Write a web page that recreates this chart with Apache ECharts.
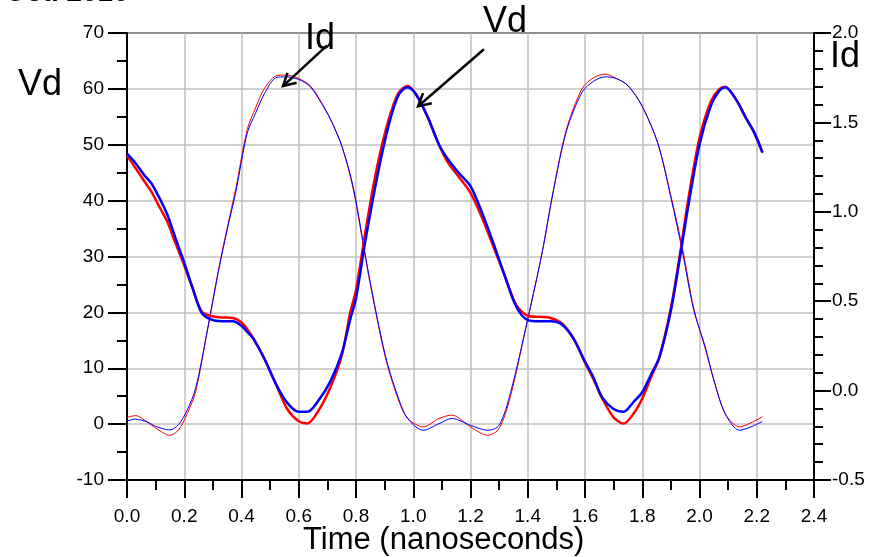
<!DOCTYPE html>
<html>
<head>
<meta charset="utf-8">
<script src="https://cdn.jsdelivr.net/npm/echarts@6.0.0/dist/echarts.min.js"></script>
<style>
html, body { margin: 0; padding: 0; background: #fff; }
#chart { width: 877px; height: 557px; }
</style>
</head>
<body>
<div id="chart"></div>
<script>
// Vd (left axis, volts) - thick lines
const vdTime = [0.00,0.03,0.06,0.085,0.11,0.14,0.17,0.20,0.23,0.26,0.29,0.33,0.37,0.40,0.42,0.44,0.48,0.52,0.56,0.60,0.63,0.67,0.71,0.75,0.78,0.80,0.83,0.86,0.89,0.92,0.95,0.98,1.01,1.05,1.09,1.12,1.16,1.20,1.24,1.28,1.32,1.36,1.40,1.44,1.48,1.52,1.56,1.60,1.63,1.66,1.70,1.735,1.77,1.80,1.83,1.86,1.90,1.93,1.96,2.00,2.04,2.07,2.09,2.13,2.16,2.19,2.22]
const vdRed = [48.1,45.8,43.5,41.6,39.2,36.3,32.3,28.4,24.2,20.2,19.4,19.1,19.0,18.2,17.0,15.5,11.7,7.2,2.7,0.5,0.1,2.5,6.5,12.2,20.0,24.0,33.5,42.5,49.8,55.5,59.4,60.5,59.0,55.0,50.0,46.9,44.2,41.4,37.0,31.8,26.5,21.3,19.4,19.2,19.0,18.0,15.3,11.0,8.0,4.6,1.2,0.1,1.9,4.6,8.3,12.0,20.8,29.8,40.0,51.2,57.8,60.0,60.4,57.9,55.0,52.3,48.6]
const vdBlue = [48.4,46.7,44.6,43.1,40.8,37.6,33.2,28.9,24.2,20.0,18.8,18.4,18.4,17.6,16.5,15.4,11.7,7.2,3.8,2.2,2.2,4.3,7.6,12.6,18.8,22.5,32.0,40.5,48.2,54.6,59.0,60.3,59.0,55.0,50.0,47.5,44.9,42.6,37.9,32.4,26.5,21.0,18.6,18.4,18.4,17.8,15.3,11.2,8.3,4.8,2.7,2.2,4.0,5.7,8.8,12.0,20.3,29.3,38.8,50.0,57.0,59.7,60.3,57.9,55.0,52.3,48.6]

// Id (right axis) - thin lines
const idTime = [0.00,0.03,0.07,0.10,0.15,0.18,0.21,0.24,0.28,0.32,0.35,0.38,0.42,0.45,0.48,0.52,0.555,0.60,0.64,0.68,0.71,0.75,0.79,0.84,0.88,0.91,0.95,0.98,1.035,1.09,1.135,1.20,1.26,1.30,1.34,1.40,1.45,1.49,1.535,1.59,1.63,1.67,1.71,1.75,1.80,1.855,1.90,1.94,1.98,2.02,2.05,2.09,2.14,2.18,2.22]
const idRed = [-0.15,-0.14,-0.175,-0.21,-0.25,-0.22,-0.13,-0.005,0.33,0.68,0.91,1.13,1.46,1.585,1.69,1.76,1.765,1.745,1.705,1.61,1.52,1.37,1.13,0.68,0.35,0.14,-0.06,-0.155,-0.203,-0.156,-0.137,-0.203,-0.25,-0.212,-0.03,0.40,0.77,1.125,1.46,1.69,1.75,1.77,1.745,1.706,1.59,1.38,1.09,0.80,0.46,0.235,0.06,-0.13,-0.203,-0.18,-0.147]
const idBlue = [-0.17,-0.16,-0.175,-0.20,-0.22,-0.19,-0.11,0.015,0.33,0.67,0.90,1.11,1.44,1.555,1.66,1.75,1.755,1.74,1.70,1.605,1.52,1.37,1.14,0.69,0.36,0.15,-0.05,-0.155,-0.222,-0.185,-0.156,-0.194,-0.222,-0.194,-0.01,0.40,0.77,1.12,1.45,1.67,1.73,1.755,1.745,1.706,1.59,1.38,1.08,0.78,0.45,0.245,0.06,-0.13,-0.222,-0.203,-0.172]

// arrows: [tail, tip] in (ns, Vd) coordinates
const idArrow = [[0.699, 67.8], [0.545, 60.5]]
const vdArrow = [[1.247, 67.1], [1.017, 56.9]]

const FONT = 'Liberation Sans, Arial, sans-serif'

function pairs(xs, ys) {
  return xs.map((x, i) => [x, ys[i]])
}

const chart = echarts.init(document.getElementById('chart'))

const axisBlack = { lineStyle: { color: '#000', width: 2 } }

chart.setOption({
  animation: false,
  backgroundColor: '#fff',
  grid: {
    left: 127, right: 63, top: 33, bottom: 77,
    show: true, borderColor: '#000', borderWidth: 2
  },
  xAxis: {
    type: 'value',
    min: 0, max: 2.4, interval: 0.2,
    axisLine: { onZero: false, ...axisBlack },
    axisTick: { inside: false, length: 18, lineStyle: { color: '#000', width: 2 } },
    minorTick: { show: true, splitNumber: 2, length: 10, lineStyle: { color: '#000', width: 2 } },
    axisLabel: { margin: 27, fontSize: 19, color: '#000', fontFamily: FONT, formatter: v => v.toFixed(1) },
    splitLine: { show: true, lineStyle: { color: '#c0c0c0', width: 1.5 } }
  },
  yAxis: [
    {
      type: 'value',
      min: -10, max: 70, interval: 10,
      axisLine: { show: true, onZero: false, ...axisBlack },
      axisTick: { show: true, inside: false, length: 19, lineStyle: { color: '#000', width: 2 } },
      minorTick: { show: true, splitNumber: 2, length: 10, lineStyle: { color: '#000', width: 2 } },
      axisLabel: { margin: 23, fontSize: 19, color: '#000', fontFamily: FONT },
      splitLine: { show: true, lineStyle: { color: '#c0c0c0', width: 1.5 } }
    },
    {
      type: 'value',
      position: 'right',
      min: -0.5, max: 2.0, interval: 0.5,
      axisLine: { show: true, onZero: false, ...axisBlack },
      axisTick: { show: true, inside: false, length: 17, lineStyle: { color: '#000', width: 2 } },
      minorTick: { show: true, splitNumber: 5, length: 9, lineStyle: { color: '#000', width: 2 } },
      axisLabel: { margin: 18, fontSize: 19, color: '#000', fontFamily: FONT, formatter: v => v.toFixed(1) },
      splitLine: { show: false }
    }
  ],
  series: [
    {
      name: 'Id red', type: 'line', yAxisIndex: 1, data: pairs(idTime, idRed),
      showSymbol: false, smooth: 0.3, lineStyle: { color: '#ff0000', width: 1 }
    },
    {
      name: 'Id blue', type: 'line', yAxisIndex: 1, data: pairs(idTime, idBlue),
      showSymbol: false, smooth: 0.3, lineStyle: { color: '#0000ff', width: 1 }
    },
    {
      name: 'Vd red', type: 'line', yAxisIndex: 0, data: pairs(vdTime, vdRed),
      showSymbol: false, smooth: 0.3, lineStyle: { color: '#ff0000', width: 2.5 }
    },
    {
      name: 'Vd blue', type: 'line', yAxisIndex: 0, data: pairs(vdTime, vdBlue),
      showSymbol: false, smooth: 0.3, lineStyle: { color: '#0000ff', width: 2.5 }
    }
  ]
})

// arrow graphics, placed through the axes
function arrow(def) {
  const p0 = chart.convertToPixel({ gridIndex: 0 }, def[0])
  const p1 = chart.convertToPixel({ gridIndex: 0 }, def[1])
  const ang = Math.atan2(p1[1] - p0[1], p1[0] - p0[0])
  const len = 14, spread = 0.5
  const h1 = [p1[0] - len * Math.cos(ang - spread), p1[1] - len * Math.sin(ang - spread)]
  const h2 = [p1[0] - len * Math.cos(ang + spread), p1[1] - len * Math.sin(ang + spread)]
  const style = { stroke: '#000', lineWidth: 2.5, fill: null }
  return [
    { type: 'polyline', shape: { points: [p0, p1] }, style: style, z: 100 },
    { type: 'polyline', shape: { points: [h1, p1, h2] }, style: style, z: 100 }
  ]
}

function label(text, x, y, size, extra) {
  return {
    type: 'text', x: x, y: y, z: 100,
    style: Object.assign({ text: text, fill: '#000', font: size + 'px ' + FONT, verticalAlign: 'middle', align: 'left' }, extra || {})
  }
}

chart.setOption({
  graphic: [
    ...arrow(idArrow),
    ...arrow(vdArrow),
    label('Id', 305, 39, 36),
    label('Vd', 483, 22, 36),
    label('Vd', 18, 85, 36),
    label('Id', 830, 57, 36),
    label('Time (nanoseconds)', 303, 540, 31),
    {
      type: 'text', x: 130, y: -7, z: 100,
      style: { text: 'Oct. 2010', fill: '#000', font: 'italic bold 28px ' + FONT, align: 'right', verticalAlign: 'middle' }
    }
  ]
})
</script>
</body>
</html>
